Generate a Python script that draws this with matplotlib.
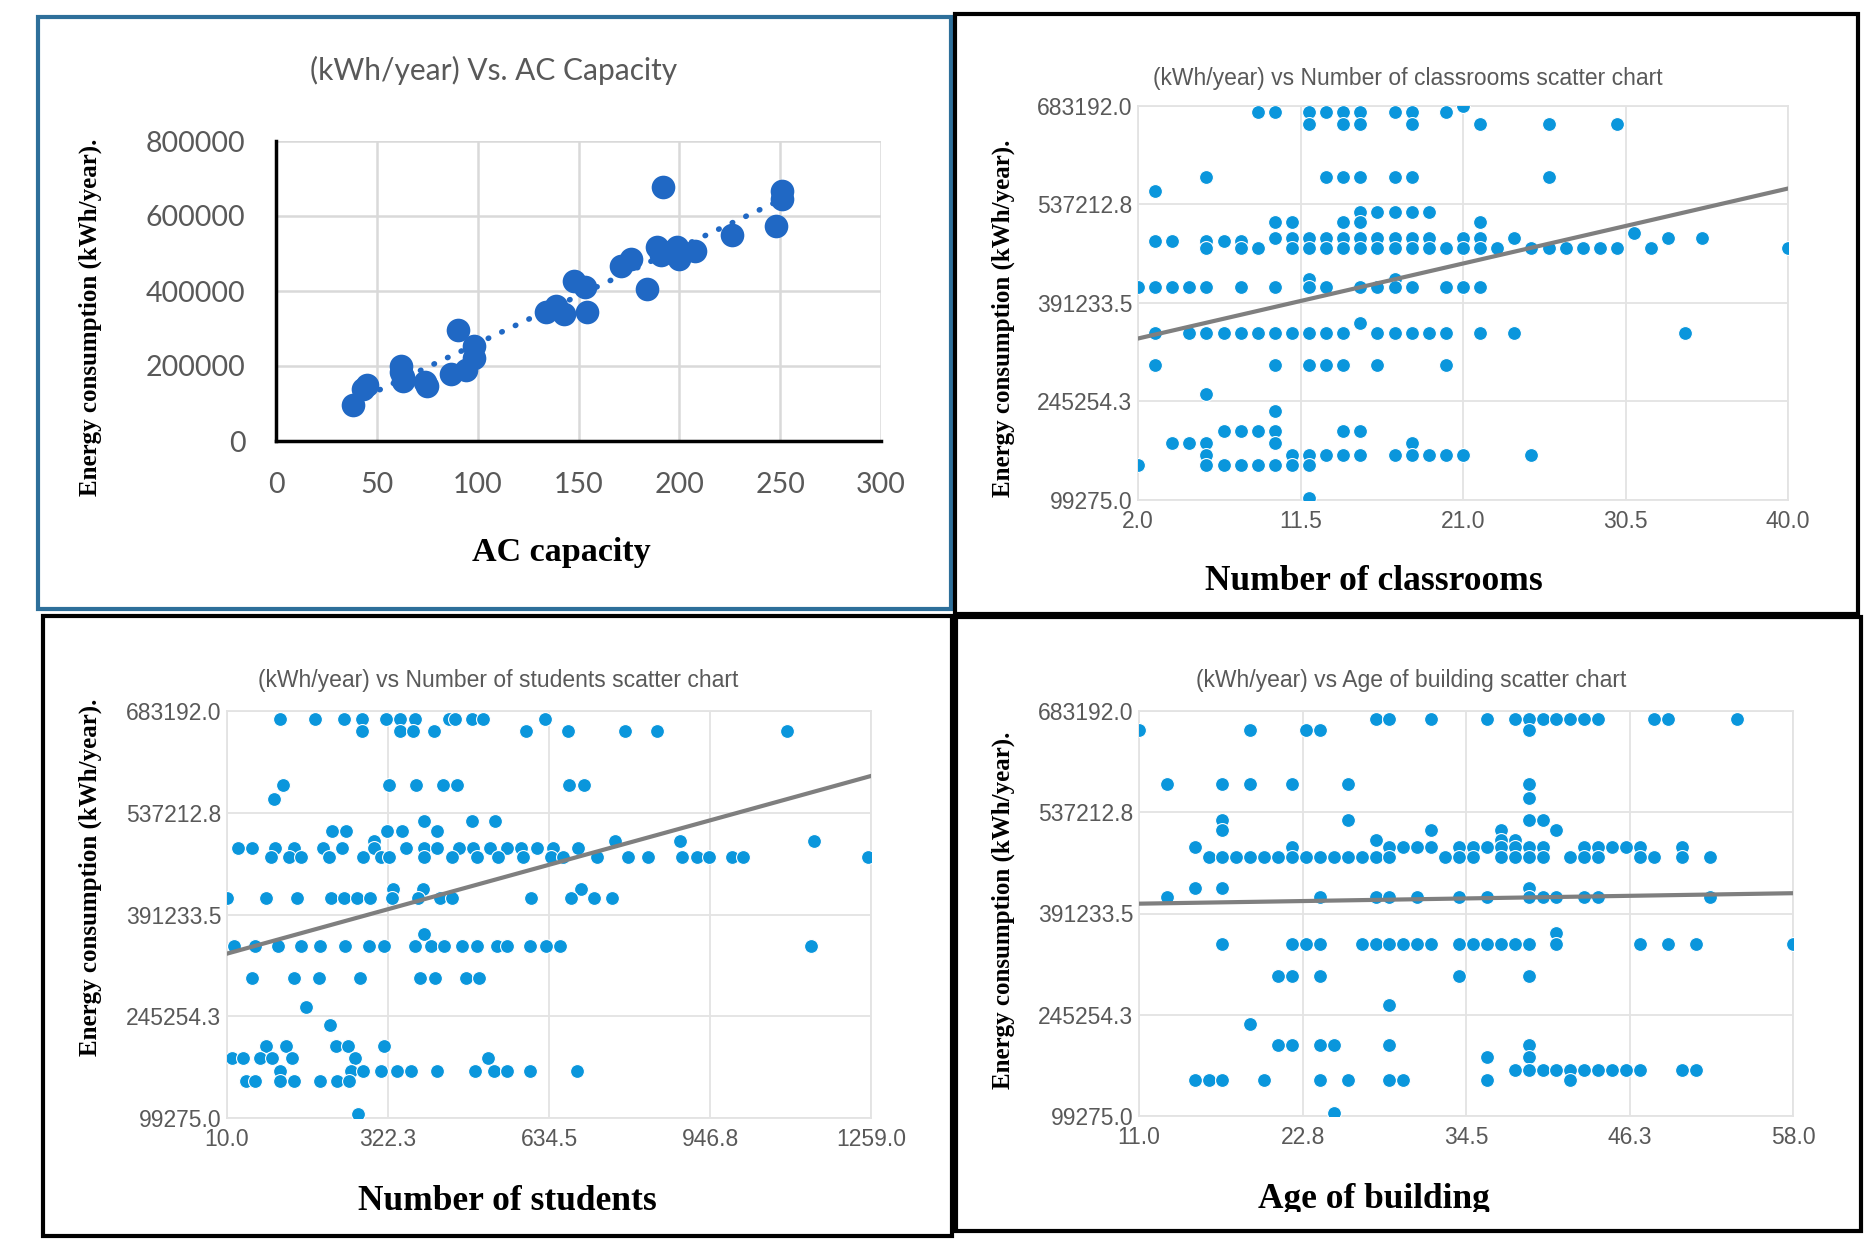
import numpy as np
import matplotlib.pyplot as plt
from matplotlib.patches import Rectangle
from matplotlib.transforms import Bbox

W, H = 1871, 1242

# ---- panel 1: AC capacity ----
ac_x = [38, 43, 45, 62, 62, 63, 63, 74, 75, 87, 90, 94, 98, 98, 134, 139, 143,
        148, 153, 154, 171, 176, 184, 189, 191, 192, 195, 199, 200, 208, 226,
        248, 251, 251]
ac_y = [95000, 140000, 150000, 200000, 185000, 170000, 160000, 158000, 148000,
        180000, 296000, 190000, 253000, 222000, 345000, 360000, 338000, 427000,
        412000, 343000, 467000, 486000, 406000, 518000, 497000, 678000, 505000,
        518000, 486000, 507000, 550000, 574000, 668000, 645000]

# ---- panel 2: number of classrooms (rows of equal consumption) ----
cls_levels = [683192, 674300, 656600, 578600, 557300, 526600, 511200, 494700,
              487000, 483000, 472200, 426100, 414300, 362300, 346300, 299000,
              256500, 231100, 201500, 183800, 166100, 151300, 102200]
cls_x = [
    [21],
    [9, 10, 12, 13, 14, 15, 17, 18, 20],
    [12, 14, 15, 18, 22, 26, 30],
    [6, 13, 14, 15, 17, 18, 26],
    [3],
    [15, 16, 17, 18, 19],
    [10, 11, 14, 15, 22],
    [31],
    [10, 11, 12, 13, 14, 15, 16, 17, 18, 19, 21, 22, 24, 33, 35],
    [3, 4, 6, 7, 8],
    [6, 8, 9, 11, 12, 13, 14, 15, 16, 17, 18, 19, 20, 21, 22, 23, 25, 26, 27,
     28, 29, 30, 32, 40],
    [12, 17],
    [2, 3, 4, 5, 6, 8, 10, 12, 13, 15, 16, 17, 18, 20, 21, 22],
    [15],
    [3, 5, 6, 7, 8, 9, 10, 11, 12, 13, 14, 16, 17, 18, 19, 20, 22, 24, 34],
    [3, 10, 12, 13, 14, 16, 20],
    [6],
    [10],
    [7, 8, 9, 10, 14, 15],
    [4, 5, 6, 10, 18],
    [6, 11, 12, 13, 14, 15, 17, 18, 19, 20, 21, 25],
    [2, 6, 7, 8, 9, 10, 11, 12],
    [12],
]
cls_trend_x = [2, 40]
cls_trend_y = [338600, 560900]

# ---- panel 3: number of students ----
stu_levels = [671700, 655000, 577300, 557200, 525000, 510600, 496000, 486400,
              473200, 428300, 414500, 362800, 346600, 300600, 259200, 233300,
              202800, 185600, 167100, 152800, 105000]
stu_x = [
    [113, 181, 236, 271, 318, 345, 375, 441, 453, 486, 506, 626],
    [271, 345, 371, 412, 590, 671, 781, 843, 1097],
    [119, 325, 377, 429, 456, 673, 703],
    [101],
    [392, 485, 530],
    [214, 240, 321, 349, 418],
    [296, 763, 889, 1148],
    [32, 58, 103, 140, 196, 234, 295, 357, 393, 417, 459, 488, 521, 554, 581,
     611, 643, 691],
    [95, 130, 154, 208, 274, 309, 325, 393, 447, 494, 536, 584, 638, 661, 727,
     787, 826, 892, 921, 945, 989, 1010, 1254],
    [331, 391, 697],
    [10, 85, 146, 212, 236, 262, 288, 330, 381, 423, 447, 599, 677, 721, 757],
    [393],
    [23, 65, 109, 154, 190, 238, 286, 315, 375, 405, 431, 465, 494, 534, 554,
     598, 628, 655, 1143],
    [59, 140, 188, 268, 385, 413, 474, 498],
    [164],
    [210],
    [85, 125, 222, 244, 315],
    [20, 41, 74, 98, 136, 258, 516],
    [113, 250, 274, 309, 339, 367, 417, 491, 528, 554, 598, 689],
    [47, 65, 113, 139, 190, 224, 247],
    [265],
]
stu_trend_x = [10, 1259]
stu_trend_y = [335100, 590000]

# ---- panel 4: age of building ----
age_levels = [672200, 655900, 578200, 557400, 525500, 511000, 496500, 487800,
              473300, 428600, 415300, 363100, 346900, 300500, 258700, 232600,
              201900, 184500, 166000, 151500, 103300]
age_x = [
    [28, 29, 32, 36, 38, 39, 40, 41, 42, 43, 44, 48, 49, 54],
    [11, 19, 23, 24, 39],
    [13, 17, 19, 22, 26, 39],
    [39],
    [17, 26, 39, 40],
    [17, 32, 37, 41],
    [28, 37, 38],
    [15, 22, 29, 30, 31, 32, 34, 35, 36, 37, 38, 39, 40, 43, 44, 45, 46, 47, 50],
    [16, 17, 18, 19, 20, 21, 22, 23, 24, 25, 26, 27, 28, 29, 33, 34, 35, 37,
     38, 39, 40, 42, 43, 44, 47, 48, 50, 52],
    [15, 17, 39],
    [13, 24, 28, 29, 31, 34, 36, 39, 40, 41, 43, 44, 52],
    [41],
    [17, 22, 23, 24, 27, 28, 29, 30, 31, 32, 34, 35, 36, 37, 38, 39, 41, 47,
     49, 51, 58],
    [21, 22, 24, 34, 39],
    [29],
    [19],
    [21, 22, 24, 25, 29, 39],
    [36, 39],
    [38, 39, 40, 41, 42, 43, 44, 45, 46, 47, 50, 51],
    [15, 16, 17, 20, 24, 26, 29, 30, 36, 42],
    [25],
]
age_trend_x = [11, 58]
age_trend_y = [405400, 420500]

y_ticks = [99275.0, 245254.3, 391233.5, 537212.8, 683192.0]


def flatten(levels, xs):
    px, py = [], []
    for lev, row in zip(levels, xs):
        px += row
        py += [lev] * len(row)
    return px, py


def R(x0, y0, x1, y1):
    # pixel box (top-left origin) -> figure fraction rect
    return [x0 / W, 1 - y1 / H, (x1 - x0) / W, (y1 - y0) / H]


narrow = ['Liberation Sans', 'DejaVu Sans']
serif = ['Liberation Serif', 'DejaVu Serif']
ylab = 'Energy consumption (kWh/year).'

fig = plt.figure(figsize=(W / 100, H / 100), dpi=100)

# frames
frames = [((38, 17, 951, 609), '#2E6F9A'), ((955, 14, 1858, 614), 'black'),
          ((43, 616, 952, 1236), 'black'), ((956, 617, 1861, 1231), 'black')]
for (x0, y0, x1, y1), c in frames:
    fig.patches.append(Rectangle((x0 / W, 1 - y1 / H), (x1 - x0) / W, (y1 - y0) / H,
                                 transform=fig.transFigure, fill=False,
                                 edgecolor=c, lw=3, zorder=0))

# ---- panel 1 ----
ax1 = fig.add_axes(R(276, 141, 881, 441))
ax1.scatter(ac_x, ac_y, s=290, color='#2068C4', zorder=3, linewidths=0)
k, b = np.polyfit(ac_x, ac_y, 1)
xt = np.array([min(ac_x), max(ac_x)])
ax1.plot(xt, k * xt + b, color='#2068C4', lw=4, linestyle=(0, (0.1, 2.6)),
         dash_capstyle='round', zorder=2)
ax1.set_xlim(0, 300)
ax1.set_ylim(0, 800000)
ax1.set_xticks(range(0, 301, 50))
ax1.set_yticks(range(0, 800001, 200000))
ax1.grid(True, color='#D9D9D9', lw=1.8)
ax1.set_axisbelow(True)
for s in ['top', 'right']:
    ax1.spines[s].set_visible(False)
for s in ['left', 'bottom']:
    ax1.spines[s].set_linewidth(2.5)
    ax1.spines[s].set_zorder(4)
ax1.tick_params(length=0, labelsize=20.5, labelcolor='#595959')
ax1.tick_params(axis='x', pad=22)
ax1.tick_params(axis='y', pad=22)
for lab in ax1.get_xticklabels() + ax1.get_yticklabels():
    lab.set_family(['Lato', 'DejaVu Sans'])
fig.text(494 / W, 1 - 70 / H, '(kWh/year) Vs. AC Capacity', ha='center', va='center',
         fontsize=21.5, color='#595959', family=['Lato', 'DejaVu Sans'])
fig.text(561 / W, 1 - 553 / H, 'AC capacity', ha='center', va='center',
         fontsize=24.5, fontweight='bold', family=serif)
fig.text(90 / W, 1 - 317 / H, ylab, ha='center', va='center', rotation=90,
         fontsize=18, fontweight='bold', family=serif)


def scatter_panel(rect, xs, ys, tx, ty, xlim, xticks, title, title_xy,
                  xlabel, xlabel_xy, ylabel_xy, clip_y=None):
    ax = fig.add_axes(rect)
    ax.scatter(xs, ys, s=100, color='#0A96DC', edgecolors='white',
               linewidths=0.8, zorder=3)
    ax.plot(tx, ty, color='#7F7F7F', lw=3, zorder=4)
    ax.set_xlim(*xlim)
    ax.set_ylim(y_ticks[0], y_ticks[-1])
    ax.set_xticks(xticks)
    ax.set_xticklabels(['%.1f' % v for v in xticks])
    ax.set_yticks(y_ticks)
    ax.set_yticklabels(['%.1f' % v for v in y_ticks])
    ax.grid(True, color='#E3E3E3', lw=1.3)
    ax.set_axisbelow(True)
    for s in ax.spines.values():
        s.set_color('#E3E3E3')
        s.set_linewidth(1.3)
    ax.tick_params(length=0, labelsize=16.5, labelcolor='#595959', pad=4)
    ax.tick_params(axis='x', pad=7)
    for lab in ax.get_xticklabels() + ax.get_yticklabels():
        lab.set_family(narrow)
    fig.text(title_xy[0] / W, 1 - title_xy[1] / H, title, ha='center', va='center',
             fontsize=16.5, color='#595959', family=narrow)
    t = fig.text(xlabel_xy[0] / W, 1 - xlabel_xy[1] / H, xlabel, ha='center',
                 va='center', fontsize=25.5, fontweight='bold', family=serif)
    if clip_y is not None:
        t.set_clip_box(Bbox.from_extents(0, H - clip_y, W, H))
        t.set_clip_on(True)
    fig.text(ylabel_xy[0] / W, 1 - ylabel_xy[1] / H, ylab, ha='center',
             va='center', rotation=90, fontsize=18, fontweight='bold',
             family=serif)
    return ax


cx, cy = flatten(cls_levels, cls_x)
scatter_panel(R(1138, 106, 1788, 500), cx, cy, cls_trend_x, cls_trend_y,
              (2, 40), [2.0, 11.5, 21.0, 30.5, 40.0],
              '(kWh/year) vs Number of classrooms scatter chart', (1408, 78),
              'Number of classrooms', (1374, 581), (1003, 318))

sx, sy = flatten(stu_levels, stu_x)
scatter_panel(R(227, 711, 871, 1118), sx, sy, stu_trend_x, stu_trend_y,
              (10, 1259), [10.0, 322.3, 634.5, 946.8, 1259.0],
              '(kWh/year) vs Number of students scatter chart', (498, 681),
              'Number of students', (507, 1201), (90, 877))

gx, gy = flatten(age_levels, age_x)
scatter_panel(R(1139, 711, 1793, 1116), gx, gy, age_trend_x, age_trend_y,
              (11, 58), [11.0, 22.8, 34.5, 46.3, 58.0],
              '(kWh/year) vs Age of building scatter chart', (1411, 681),
              'Age of building', (1374, 1200), (1003, 910), clip_y=1212)

fig.savefig('out.png', dpi=100)
